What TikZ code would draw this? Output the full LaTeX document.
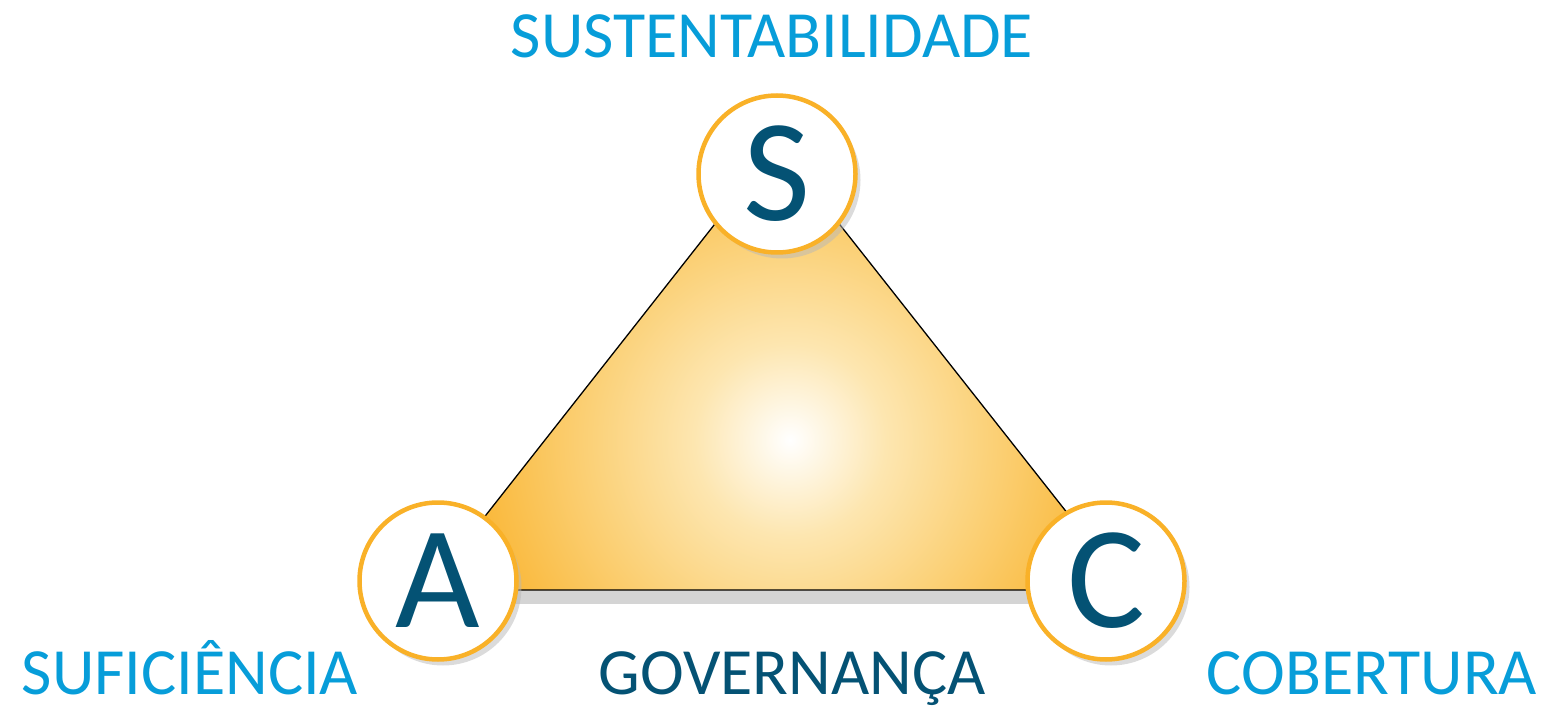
\documentclass[tikz,border=0pt]{standalone}
\usepackage{fontspec}
\setmainfont{Carlito}
\usetikzlibrary{shadows}
\definecolor{ringorange}{HTML}{F9B128}
\definecolor{glowpale}{HTML}{FDE6B0}
\definecolor{glowmid}{HTML}{FBD178}
\definecolor{labelblue}{HTML}{079DD9}
\definecolor{deepteal}{HTML}{045274}
\pgfdeclareradialshading{trianglesun}{\pgfpoint{0bp}{0bp}}{color(0bp)=(white); color(6bp)=(glowpale); color(12.5bp)=(glowmid); color(22bp)=(ringorange); color(50bp)=(ringorange)}

\tikzset{
  bubble/.style={circle, minimum size=157pt, inner sep=0pt, draw=ringorange, line width=4.5pt, fill=white, text=deepteal, font=\fontsize{146}{146}\selectfont, drop shadow={shadow xshift=5pt, shadow yshift=-6pt, fill=black!28, opacity=0.5}},
  pillar/.style={text=labelblue, font=\fontsize{66}{66}\selectfont, anchor=base, text depth=0pt},
}

\begin{document}
\begin{tikzpicture}[x=1pt,y=-1pt]
	%%%%% START %%%%%
	\useasboundingbox (0,0) rectangle (1547,708);
	
	\coordinate (left) at (427,590);
	\coordinate (right) at (1128,590);
	\coordinate (top) at (777,145);
	
	% shadow and glow of the triangle
	\fill[black!12] ([shift={(2,3)}]left) -- ([shift={(2,3)}]right) -- ([shift={(2,3)}]top) -- cycle;
	\fill[black!17] (left) rectangle ([shift={(0,14)}]right);
	\begin{scope}
		\clip (left) -- (right) -- (top) -- cycle;
		\shade[shading=trianglesun] (790,440) circle (400);
	\end{scope}
	\draw[line width=1.3pt] (left) -- (right) -- (top) -- cycle;
	
	\node[bubble] (S) at (777,174) {S};
	\node[bubble] (A) at (438,581) {A};
	\node[bubble] (C) at (1106,581) {C};
	
	\node[pillar] (sust) at (772,58) {SUSTENTABILIDADE};
	\node[pillar] (sufi) at (190,694) {SUFICIÊNCIA};
	\node[pillar, text=deepteal] (gov) at (792,694) {GOVERNANÇA};
	\node[pillar] (cob) at (1372,694) {COBERTURA};
	
	%%%%% END %%%%%
\end{tikzpicture}
\end{document}
